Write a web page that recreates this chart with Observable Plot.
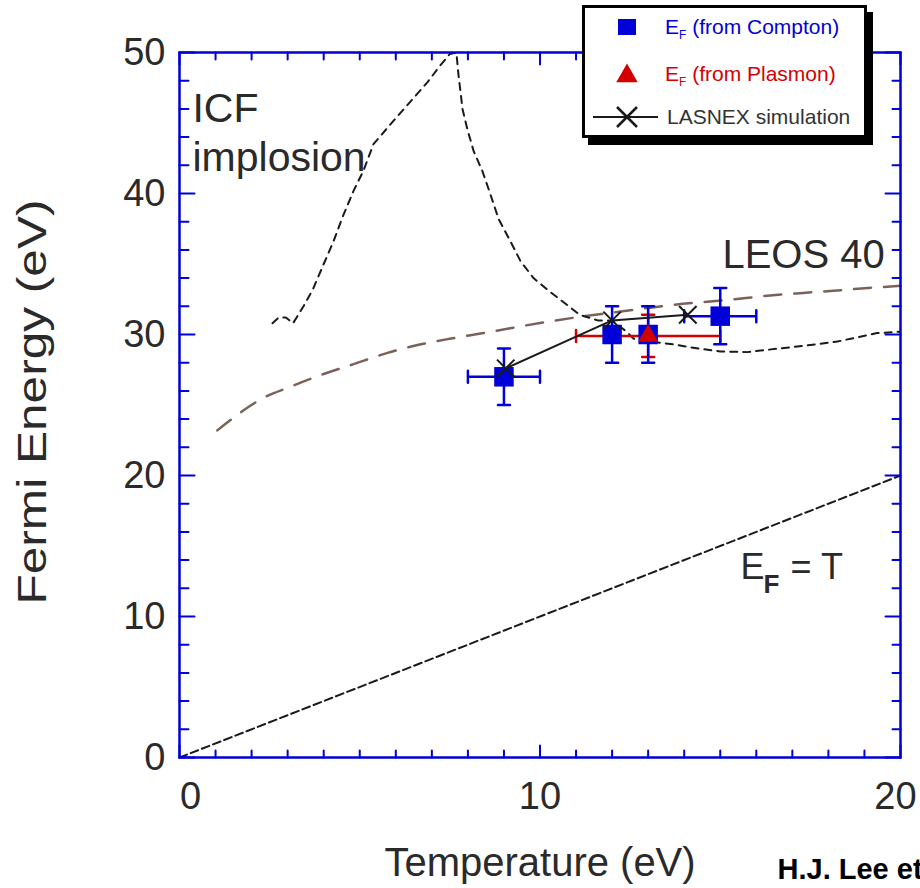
<!DOCTYPE html>
<html><head><meta charset="utf-8">
<script src="https://cdn.jsdelivr.net/npm/d3@7"></script>
<script src="https://cdn.jsdelivr.net/npm/@observablehq/plot@0.6"></script>
<style>
html,body{margin:0;padding:0;background:#fff;overflow:hidden}
#wrap{position:relative;width:920px;height:888px;font-family:Arial,"Liberation Sans",Helvetica,sans-serif}
#legend{position:absolute;left:582px;top:5px;width:279px;height:127px;border:3px solid #000;box-shadow:6px 7px 0 #000;background:#fff}
</style></head>
<body><div id="wrap"><div id="chart"></div><div id="legend"></div></div>
<script>
// ---- data ----
const comptonT = [9, 12, 13, 15];
const comptonEF = [27.0, 30.0, 30.0, 31.3];
const comptonTErr = [1, 0, 0, 1];
const comptonEFErr = [2, 2, 2, 2];

const plasmonT = [13];
const plasmonEF = [29.9];
const plasmonTErr = [2];
const plasmonEFErr = [1.5];

const lasnexT = [9.05, 12.0, 14.1];
const lasnexEF = [27.6, 31.0, 31.4];

const leosT = [1.05, 1.5, 2.25, 3.08, 4.0, 4.83, 5.77, 6.6, 7.5, 8.43, 10.2, 11.1, 12.0, 12.9, 13.7, 15.4, 16.3, 17.3, 18.15, 19.1, 20];
const leosEF = [23.2, 24.1, 25.4, 26.3, 27.2, 27.9, 28.7, 29.25, 29.7, 30.1, 30.9, 31.25, 31.55, 31.85, 32.1, 32.5, 32.75, 32.95, 33.1, 33.3, 33.45];

const icfT = [2.58, 2.75, 2.95, 3.15, 3.44, 3.7, 4.0, 4.27, 4.55, 4.83, 5.1, 5.38, 5.85, 6.4, 6.88, 7.24, 7.5, 7.68, 7.74, 7.85, 7.98, 8.16, 8.4, 8.63, 8.85, 9.18, 9.46, 9.82, 10.24, 10.7, 11.1, 11.6, 12.0, 12.4, 12.6, 13.07, 13.7, 14.4, 15.0, 15.75, 16.6, 17.5, 18.25, 18.8, 19.35, 20];
const icfEF = [30.8, 31.2, 31.2, 30.8, 32.0, 33.2, 35.0, 36.6, 38.5, 40.2, 41.6, 43.5, 44.9, 46.5, 47.9, 49.1, 49.9, 50.0, 48.4, 46.0, 44.6, 43.0, 41.6, 39.9, 38.2, 36.6, 35.2, 34.0, 33.1, 32.2, 31.4, 31.0, 31.0, 30.2, 29.7, 29.5, 29.3, 29.0, 28.8, 28.75, 29.0, 29.25, 29.5, 29.8, 30.1, 30.2];

const efT = [0, 20];
const efEF = [0, 20];

const xTickLabels = [0, 10, 20];
const yTickLabels = [0, 10, 20, 30, 40, 50];
const xMinorTicks = d3.range(0, 21, 1).filter(v => v % 10 !== 0);
const yMinorTicks = d3.range(0, 51, 2).filter(v => v % 10 !== 0);

const legendLabels = ["(from Compton)", "(from Plasmon)", "LASNEX simulation"];

// ---- styles ----
const BLUE = "#0000d8", RED = "#d40000", BROWN = "#7a6259", INK = "#1a1a1a", TXT = "#2a2a2a";
const FONT = "Arial, 'Liberation Sans', Helvetica, sans-serif";

const compton = comptonT.map((t, i) => ({t, ef: comptonEF[i], dt: comptonTErr[i], de: comptonEFErr[i]}));
const plasmon = plasmonT.map((t, i) => ({t, ef: plasmonEF[i], dt: plasmonTErr[i], de: plasmonEFErr[i]}));
const lasnex = lasnexT.map((t, i) => ({t, ef: lasnexEF[i]}));
const leos = leosT.map((t, i) => ({t, ef: leosEF[i]}));
const icf = icfT.map((t, i) => ({t, ef: icfEF[i]}));
const eft = efT.map((t, i) => ({t, ef: efEF[i]}));

function errorBars(data, color) {
  const h = data.filter(d => d.dt > 0), v = data.filter(d => d.de > 0);
  const cap = {stroke: color, strokeWidth: 2.5, shape: "spike", r: 0, anchor: "middle", length: 12};
  return [
    Plot.link(h, {x1: d => d.t - d.dt, x2: d => d.t + d.dt, y1: "ef", y2: "ef", stroke: color, strokeWidth: 2.5}),
    Plot.link(v, {x1: "t", x2: "t", y1: d => d.ef - d.de, y2: d => d.ef + d.de, stroke: color, strokeWidth: 2.5}),
    Plot.vector(h, {...cap, x: d => d.t - d.dt, y: "ef", rotate: 0}),
    Plot.vector(h, {...cap, x: d => d.t + d.dt, y: "ef", rotate: 0}),
    Plot.vector(v, {...cap, x: "t", y: d => d.ef - d.de, rotate: 90}),
    Plot.vector(v, {...cap, x: "t", y: d => d.ef + d.de, rotate: 90})
  ];
}

function ticks(values, side, len) {
  const o = {stroke: BLUE, strokeWidth: 2, shape: "spike", r: 0, anchor: "start", length: len};
  if (side === "bottom") return Plot.vector(values, {...o, x: d => d, frameAnchor: "bottom", rotate: 0});
  if (side === "top") return Plot.vector(values, {...o, x: d => d, frameAnchor: "top", rotate: 180});
  if (side === "left") return Plot.vector(values, {...o, y: d => d, frameAnchor: "left", rotate: 90});
  return Plot.vector(values, {...o, y: d => d, frameAnchor: "right", rotate: 270});
}

const xLabelOpts = {anchor: "bottom", tickSize: 0, tickPadding: 25, fontSize: 38, fill: TXT, label: null};

const chart = Plot.plot({
  width: 920, height: 888,
  marginLeft: 179, marginRight: 20, marginTop: 52, marginBottom: 131,
  x: {domain: [0, 20]},
  y: {domain: [0, 50]},
  style: {fontFamily: FONT, background: "white"},
  marks: [
    Plot.line(eft, {x: "t", y: "ef", stroke: INK, strokeWidth: 2, strokeDasharray: "8,4"}),
    Plot.line(leos, {x: "t", y: "ef", stroke: BROWN, strokeWidth: 2.5, strokeDasharray: "17,13", curve: "monotone-x"}),
    Plot.line(icf, {x: "t", y: "ef", stroke: INK, strokeWidth: 2, strokeDasharray: "7,6", clip: true}),
    ...errorBars(plasmon, RED),
    ...errorBars(compton, BLUE),
    Plot.dot(compton, {x: "t", y: "ef", symbol: "square", r: 11, fill: BLUE, stroke: "none"}),
    Plot.line(lasnex, {x: "t", y: "ef", stroke: INK, strokeWidth: 2}),
    Plot.dot(lasnex, {x: "t", y: "ef", symbol: "times", r: 8, stroke: INK, strokeWidth: 2}),
    Plot.dot(plasmon, {x: "t", y: "ef", symbol: "triangle", r: 7.5, fill: RED, stroke: "none"}),
    // annotations
    Plot.text(["ICF"], {x: 0.36, y: 45.1, textAnchor: "start", lineAnchor: "bottom", fontSize: 41, fill: TXT}),
    Plot.text(["implosion"], {x: 0.36, y: 41.6, textAnchor: "start", lineAnchor: "bottom", fontSize: 41, fill: TXT}),
    Plot.text(["LEOS 40"], {x: 15.06, y: 34.7, textAnchor: "start", lineAnchor: "bottom", fontSize: 40, fill: TXT}),
    Plot.text(["E"], {x: 15.56, y: 12.68, textAnchor: "start", lineAnchor: "bottom", fontSize: 36, fill: TXT}),
    Plot.text(["F"], {x: 16.2, y: 11.69, textAnchor: "start", lineAnchor: "bottom", fontSize: 26, fontWeight: "bold", fill: TXT}),
    Plot.text(["= T"], {x: 16.95, y: 12.68, textAnchor: "start", lineAnchor: "bottom", fontSize: 36, fill: TXT}),
    // axis titles and credit
    Plot.text(["Temperature (eV)"], {frameAnchor: "bottom", dy: 118, textAnchor: "middle", lineAnchor: "bottom", fontSize: 40, fill: TXT}),
    Plot.text(["Fermi Energy (eV)"], {frameAnchor: "left", dx: -134, dy: -3, rotate: -90, textAnchor: "middle", lineAnchor: "bottom", fontSize: 40, fill: TXT, className: "ylab"}),
    Plot.text(["H.J. Lee et al."], {frameAnchor: "bottom-left", dx: 598, dy: 121, textAnchor: "start", lineAnchor: "bottom", fontSize: 29, fontWeight: "bold", fill: "#000"}),
    // ticks
    ticks(xMinorTicks, "bottom", 7), ticks(xTickLabels, "bottom", 12),
    ticks(xMinorTicks, "top", 7), ticks(xTickLabels, "top", 12),
    ticks(yMinorTicks, "left", 9), ticks(yTickLabels, "left", 15),
    ticks(yMinorTicks, "right", 8), ticks(yTickLabels, "right", 15),
    Plot.axisX(xTickLabels.slice(0, 1), {...xLabelOpts, dx: 11}),
    Plot.axisX(xTickLabels.slice(1, 2), xLabelOpts),
    Plot.axisX(xTickLabels.slice(2), {...xLabelOpts, dx: -5}),
    Plot.axisY(yTickLabels, {anchor: "left", tickSize: 0, tickPadding: 14, fontSize: 38, fill: TXT, label: null}),
    Plot.frame({stroke: BLUE, strokeWidth: 2.5})
  ]
});
document.getElementById("chart").appendChild(chart);
// the reference's y title is drawn stretched along its length
d3.select(chart).selectAll("g.ylab text, .ylab text").attr("textLength", 405).attr("lengthAdjust", "spacingAndGlyphs");

// ---- legend ----
const lg = d3.select("#legend").append("svg").attr("width", 279).attr("height", 127)
  .style("font-family", FONT);
const mx = 42, rows = [19, 66, 109], tx = 80;
lg.append("rect").attr("x", mx - 9).attr("y", rows[0] - 8).attr("width", 18).attr("height", 16).attr("fill", BLUE);
lg.append("path").attr("transform", `translate(${mx},${rows[1] + 2})`)
  .attr("d", d3.symbol(d3.symbolTriangle, 200)()).attr("fill", RED);
lg.append("line").attr("x1", 8).attr("x2", 73).attr("y1", rows[2]).attr("y2", rows[2]).attr("stroke", INK).attr("stroke-width", 2);
lg.append("path").attr("transform", `translate(${mx},${rows[2]})`)
  .attr("d", "M-10,-10L10,10M-10,10L10,-10").attr("stroke", INK).attr("stroke-width", 2.5).attr("fill", "none");
const colors = [BLUE, RED];
[0, 1].forEach(i => {
  const t = lg.append("text").attr("x", tx).attr("y", rows[i] + 7).attr("font-size", 21).attr("fill", colors[i]);
  t.append("tspan").text("E");
  t.append("tspan").attr("dy", 5).attr("font-size", 12).text("F");
  t.append("tspan").attr("dy", -5).text(" " + legendLabels[i]);
});
lg.append("text").attr("x", tx + 2).attr("y", rows[2] + 7).attr("font-size", 21).attr("fill", "#333").text(legendLabels[2]);
</script></body></html>
